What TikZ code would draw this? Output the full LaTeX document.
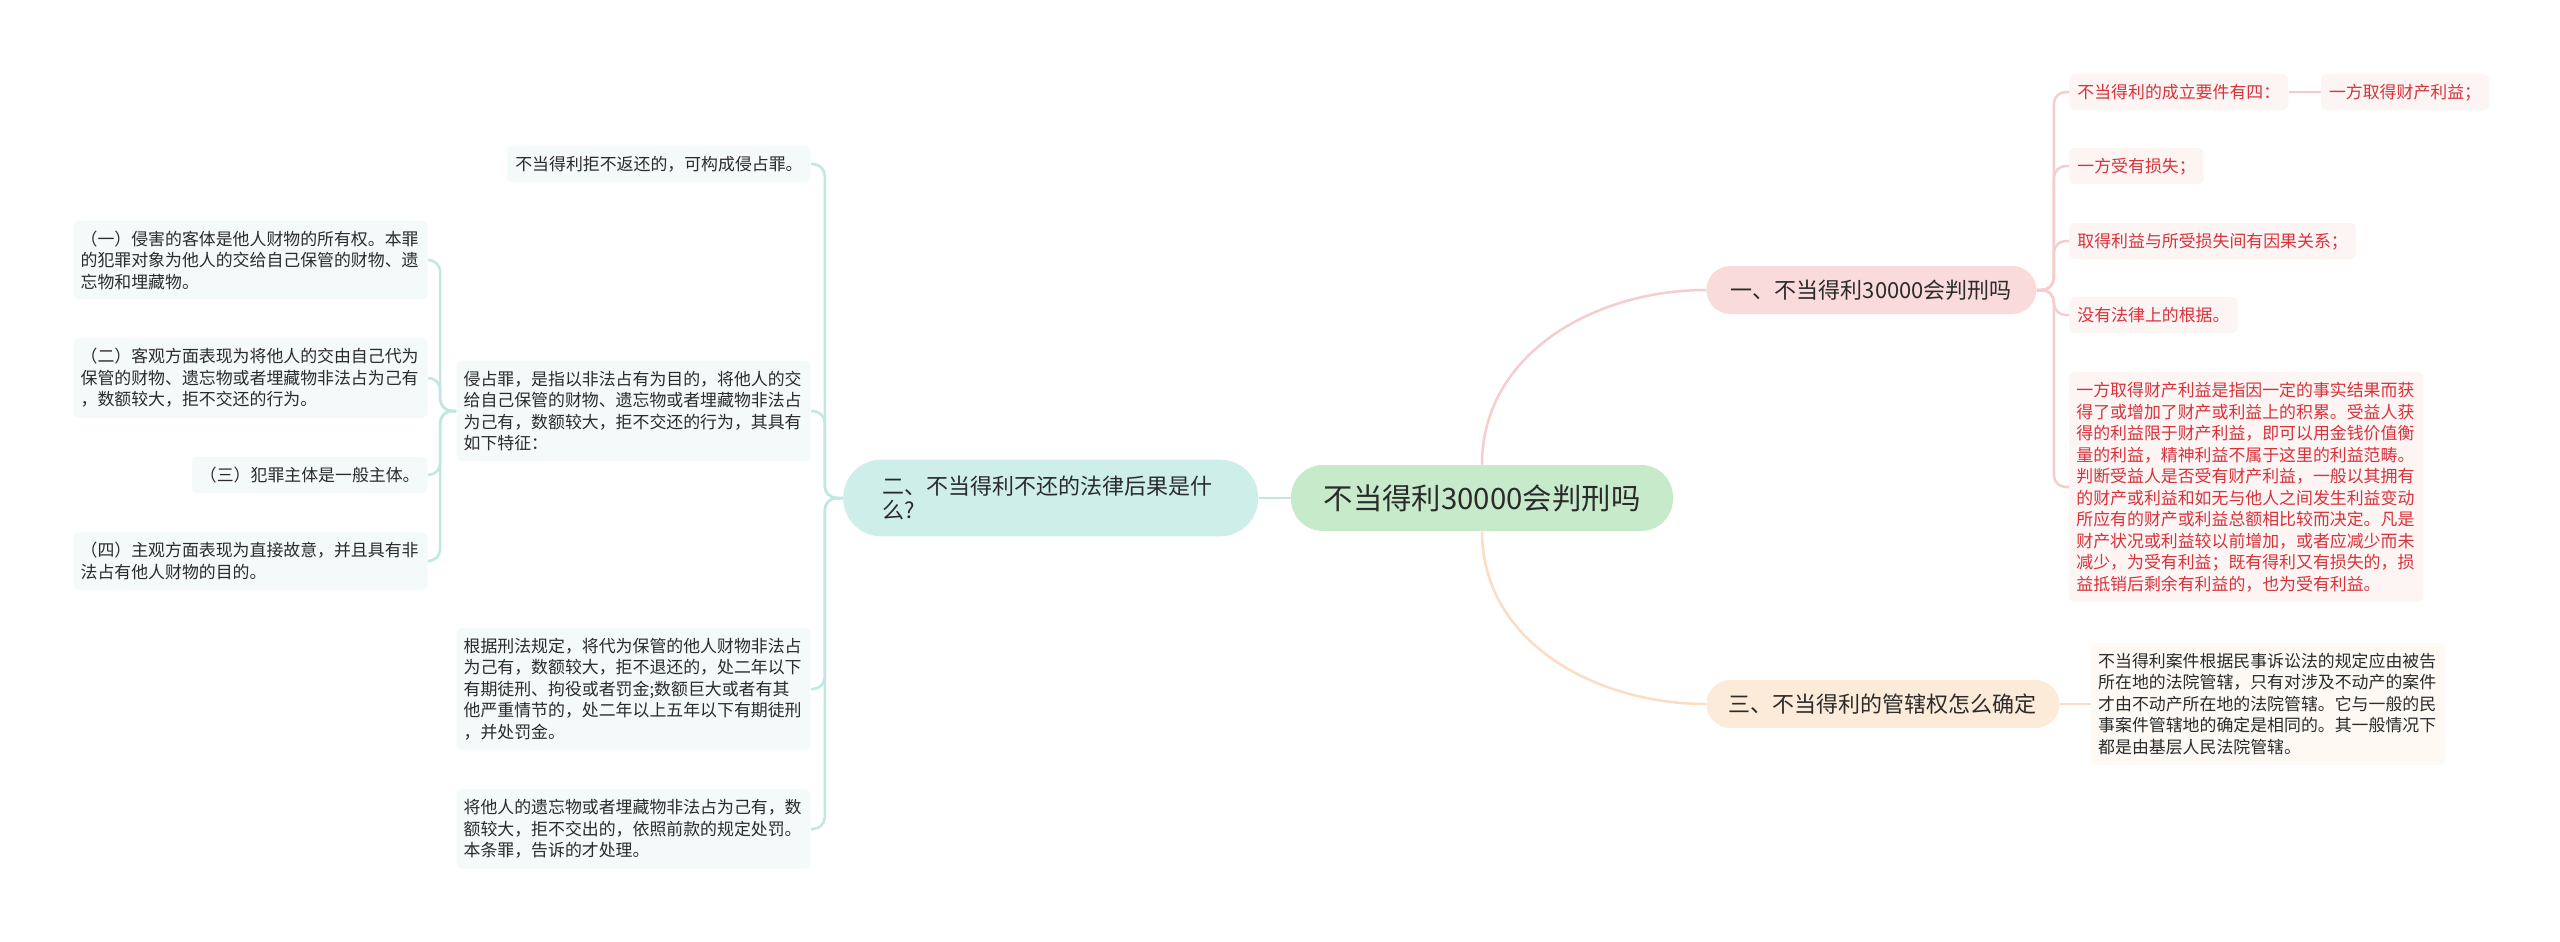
\documentclass[tikz,border=0pt]{standalone}
\usepackage{fontspec}
\setmainfont{Noto Sans CJK SC}
\usetikzlibrary{positioning}

\definecolor{rootfill}{HTML}{C7EBCA}
\definecolor{pinkfill}{HTML}{FADBDB}
\definecolor{tealfill}{HTML}{CEEFE9}
\definecolor{peachfill}{HTML}{FDEBD9}
\definecolor{pinkpale}{HTML}{FDF4F4}
\definecolor{tealpale}{HTML}{F3FAF9}
\definecolor{peachpale}{HTML}{FEF9F3}
\definecolor{redtext}{HTML}{D6333B}
\definecolor{textdark}{HTML}{2B2B2B}
\definecolor{pinkline}{HTML}{F5CDCD}
\definecolor{tealline}{HTML}{C0E8E1}
\definecolor{peachline}{HTML}{FADDC3}

\tikzstyle{root} = [
    rectangle,
    rounded corners=16pt,
    fill=rootfill,
    text=textdark,
    font=\fontsize{14.7}{17}\selectfont,
    minimum width=191pt,
    minimum height=33pt
]
\tikzstyle{branch} = [
    rectangle,
    rounded corners=12pt,
    text=textdark,
    font=\fontsize{11}{12.25}\selectfont,
    minimum height=24pt
]
\tikzstyle{branchA} = [branch, fill=pinkfill, minimum width=165pt]
\tikzstyle{branchC} = [branch, fill=peachfill, minimum width=176.5pt]
\tikzstyle{branchB} = [
    branch,
    fill=tealfill,
    rounded corners=19pt,
    align=left,
    text width=168.5pt,
    inner xsep=19.5pt,
    inner ysep=8pt
]
\tikzstyle{leaf} = [
    rectangle,
    rounded corners=2.5pt,
    align=left,
    text width=170pt,
    inner xsep=3.5pt,
    inner ysep=5pt,
    font=\fontsize{8.45}{10.75}\selectfont
]
\tikzstyle{leafL} = [leaf, fill=tealpale, text=textdark]
\tikzstyle{leafR} = [leaf, fill=pinkpale, text=redtext]
\tikzstyle{leafC} = [leaf, fill=peachpale, text=textdark]
\tikzstyle{tag} = [
    rectangle,
    rounded corners=2.5pt,
    inner xsep=4pt,
    inner ysep=4.5pt,
    text height=7.5pt,
    text depth=1.5pt,
    font=\fontsize{8.45}{10.75}\selectfont
]
\tikzstyle{tagL} = [tag, fill=tealpale, text=textdark]
\tikzstyle{tagR} = [tag, fill=pinkpale, text=redtext]
\tikzstyle{linkR} = [draw=pinkline, line width=1.25pt, rounded corners=6pt]
\tikzstyle{linkB} = [draw=tealline, line width=1.25pt, rounded corners=6pt]
\tikzstyle{linkC} = [draw=peachline, line width=1.25pt, rounded corners=6pt]

\begin{document}
\begin{tikzpicture}[x=0.5pt, y=-0.5pt]

\useasboundingbox [fill=white] (0,0) rectangle (2560,942);

\node (root) [root] at (1482,498) {不当得利30000会判刑吗};

\node (b1) [branchA, anchor=west] at (1706,290) {一、不当得利30000会判刑吗};

\node (b2) [branchB, left=16pt of root] {二、不当得利不还的法律后果是什\\么?};

\node (b3) [branchC, anchor=west] at (1706,704) {三、不当得利的管辖权怎么确定};

\node (k11) [tagR, anchor=west] at (2069,92) {不当得利的成立要件有四：};

\node (k11a) [tagR, right=16pt of k11] {一方取得财产利益；};

\node (k12) [tagR, anchor=west] at (2069,166) {一方受有损失；};

\node (k13) [tagR, anchor=west] at (2069,241) {取得利益与所受损失间有因果关系；};

\node (k14) [tagR, anchor=west] at (2069,315) {没有法律上的根据。};

\node (k15) [leafR, anchor=west] at (2069,487)
{一方取得财产利益是指因一定的事实结果而获\\
得了或增加了财产或利益上的积累。受益人获\\
得的利益限于财产利益，即可以用金钱价值衡\\
量的利益，精神利益不属于这里的利益范畴。\\
判断受益人是否受有财产利益，一般以其拥有\\
的财产或利益和如无与他人之间发生利益变动\\
所应有的财产或利益总额相比较而决定。凡是\\
财产状况或利益较以前增加，或者应减少而未\\
减少，为受有利益；既有得利又有损失的，损\\
益抵销后剩余有利益的，也为受有利益。};

\node (k31) [leafC, right=15.5pt of b3]
{不当得利案件根据民事诉讼法的规定应由被告\\
所在地的法院管辖，只有对涉及不动产的案件\\
才由不动产所在地的法院管辖。它与一般的民\\
事案件管辖地的确定是相同的。其一般情况下\\
都是由基层人民法院管辖。};

\node (m1) [tagL, anchor=east] at (811,164) {不当得利拒不返还的，可构成侵占罪。};

\node (m2) [leafL, anchor=east] at (811,411)
{侵占罪，是指以非法占有为目的，将他人的交\\
给自己保管的财物、遗忘物或者埋藏物非法占\\
为己有，数额较大，拒不交还的行为，其具有\\
如下特征：};

\node (m3) [leafL, anchor=east] at (811,689)
{根据刑法规定，将代为保管的他人财物非法占\\
为己有，数额较大，拒不退还的，处二年以下\\
有期徒刑、拘役或者罚金;数额巨大或者有其\\
他严重情节的，处二年以上五年以下有期徒刑\\
，并处罚金。};

\node (m4) [leafL, anchor=east] at (811,829)
{将他人的遗忘物或者埋藏物非法占为己有，数\\
额较大，拒不交出的，依照前款的规定处罚。\\
本条罪，告诉的才处理。};

\node (n1) [leafL, anchor=east] at (428,260)
{（一）侵害的客体是他人财物的所有权。本罪\\
的犯罪对象为他人的交给自己保管的财物、遗\\
忘物和埋藏物。};

\node (n2) [leafL, anchor=east] at (428,378)
{（二）客观方面表现为将他人的交由自己代为\\
保管的财物、遗忘物或者埋藏物非法占为己有\\
，数额较大，拒不交还的行为。};

\node (n3) [tagL, anchor=east] at (428,475) {（三）犯罪主体是一般主体。};

\node (n4) [leafL, anchor=east] at (428,561)
{（四）主观方面表现为直接故意，并且具有非\\
法占有他人财物的目的。};

\draw [linkR] (root.north) to[out=90, in=180] (b1.west);
\draw [linkC] (root.south) to[out=-90, in=180] (b3.west);
\draw [linkB] (root.west) -- (b2.east);

\draw [linkR] (b1.east) -- ++(8.5pt,0) |- (k11.west);
\draw [linkR] (b1.east) -- ++(8.5pt,0) |- (k12.west);
\draw [linkR] (b1.east) -- ++(8.5pt,0) |- (k13.west);
\draw [linkR] (b1.east) -- ++(8.5pt,0) |- (k14.west);
\draw [linkR] (b1.east) -- ++(8.5pt,0) |- (k15.west);
\draw [linkR] (k11.east) -- (k11a.west);

\draw [linkC] (b3.east) -- (k31.west);

\draw [linkB] (b2.west) -- ++(-9pt,0) |- (m1.east);
\draw [linkB] (b2.west) -- ++(-9pt,0) |- (m2.east);
\draw [linkB] (b2.west) -- ++(-9pt,0) |- (m3.east);
\draw [linkB] (b2.west) -- ++(-9pt,0) |- (m4.east);

\draw [linkB] (m2.west) -- ++(-8pt,0) |- (n1.east);
\draw [linkB] (m2.west) -- ++(-8pt,0) |- (n2.east);
\draw [linkB] (m2.west) -- ++(-8pt,0) |- (n3.east);
\draw [linkB] (m2.west) -- ++(-8pt,0) |- (n4.east);

\end{tikzpicture}
\end{document}
